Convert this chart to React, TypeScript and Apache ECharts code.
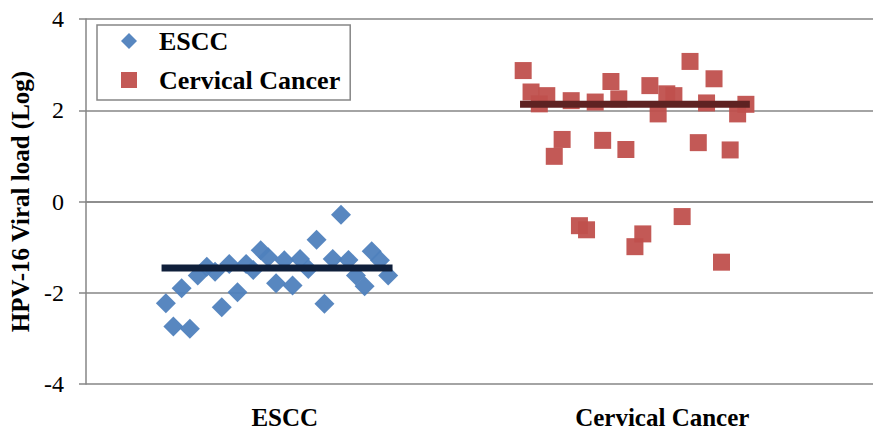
import React, { useEffect, useRef } from "react";
import * as echarts from "echarts";

const categories = ["ESCC", "Cervical Cancer"];
const yTicks = { min: -4, max: 4, interval: 2 };

// ESCC: jittered x position (in category units, 0..1) and log viral load
const esccX = [0.203, 0.222, 0.243, 0.264, 0.284, 0.307, 0.328, 0.345, 0.364, 0.385, 0.407, 0.425, 0.444, 0.463, 0.483, 0.504, 0.525, 0.544, 0.565, 0.586, 0.606, 0.627, 0.648, 0.667, 0.686, 0.708, 0.726, 0.747, 0.768];
const esccY = [-2.23, -2.74, -1.9, -2.79, -1.62, -1.43, -1.54, -2.32, -1.37, -1.99, -1.37, -1.5, -1.07, -1.22, -1.79, -1.29, -1.84, -1.26, -1.48, -0.84, -2.24, -1.26, -0.29, -1.28, -1.62, -1.86, -1.09, -1.29, -1.62];

// Cervical Cancer: jittered x position (in category units, 1..2) and log viral load
const cervX = [1.111, 1.131, 1.152, 1.171, 1.19, 1.21, 1.233, 1.254, 1.272, 1.294, 1.313, 1.334, 1.354, 1.372, 1.395, 1.415, 1.433, 1.454, 1.476, 1.494, 1.515, 1.535, 1.556, 1.577, 1.596, 1.615, 1.637, 1.656, 1.677];
const cervY = [2.87, 2.4, 2.14, 2.32, 0.99, 1.36, 2.21, -0.53, -0.62, 2.18, 1.34, 2.63, 2.25, 1.14, -0.99, -0.71, 2.54, 1.92, 2.36, 2.32, -0.33, 3.07, 1.29, 2.16, 2.69, -1.33, 1.13, 1.92, 2.13];

// Mean lines: [xStart, xEnd], mean value
const esccMeanX = [0.192, 0.779];
const esccMean = -1.46;
const cervMeanX = [1.103, 1.687];
const cervMean = 2.13;

const FONT = "Liberation Serif";
const GRID = "#868686";

export default function App() {
  const ref = useRef<HTMLDivElement>(null);
  useEffect(() => {
    if (!ref.current) return;
    const chart = echarts.init(ref.current, undefined, { renderer: "svg" });
    chart.setOption({
      animation: false,
      backgroundColor: "#ffffff",
      textStyle: { fontFamily: FONT, color: "#000" },
      grid: { left: 86, right: 0, top: 19, bottom: 48 },
      legend: {
        orient: "vertical",
        left: 97,
        top: 25,
        data: ["ESCC", "Cervical Cancer"],
        borderColor: GRID,
        borderWidth: 1.5,
        padding: [3, 10, 7, 24],
        itemWidth: 16,
        itemHeight: 16,
        itemGap: 13,
        formatter: (name: string) => `{g|}${name}`,
        textStyle: {
          fontFamily: FONT,
          fontWeight: "bold",
          fontSize: 26,
          color: "#000",
          rich: { g: { width: 17 } },
        },
      },
      xAxis: [
        {
          type: "category",
          data: categories,
          boundaryGap: true,
          axisLine: { show: true, lineStyle: { color: GRID, width: 1.5 } },
          axisTick: { show: false },
          axisLabel: {
            fontFamily: FONT,
            fontWeight: "bold",
            fontSize: 25,
            color: "#000",
            margin: 21,
            formatter: (v: string, i: number) => (i === 1 ? `{b|${v}}` : `{a|${v}}`),
            rich: {
              a: { fontFamily: FONT, fontWeight: "bold", fontSize: 25, color: "#000", padding: [0, 0, 0, 4] },
              b: { fontFamily: FONT, fontWeight: "bold", fontSize: 25, color: "#000", padding: [0, 28, 0, 0] },
            },
          },
          splitLine: { show: false },
        },
        {
          type: "value",
          min: 0,
          max: 2,
          show: false,
          splitLine: { show: false },
        },
      ],
      yAxis: {
        type: "value",
        min: yTicks.min,
        max: yTicks.max,
        interval: yTicks.interval,
        name: "HPV-16 Viral load (Log)",
        nameLocation: "middle",
        nameGap: 52,
        nameTextStyle: { fontFamily: FONT, fontWeight: "bold", fontSize: 25, color: "#000" },
        axisLine: { show: true, lineStyle: { color: GRID, width: 1.5 } },
        axisTick: { show: true, length: 7, lineStyle: { color: GRID, width: 1.5 } },
        axisLabel: {
          fontFamily: FONT,
          fontSize: 24,
          color: "#000",
          margin: 22,
          formatter: (v: number) => `{n|${v}}`,
          rich: { n: { fontFamily: FONT, fontSize: 24, fontWeight: "normal", color: "#000" } },
        },
        splitLine: { show: true, lineStyle: { color: GRID, width: 1.5 } },
      },
      series: [
        {
          name: "ESCC",
          type: "scatter",
          xAxisIndex: 1,
          symbol: "diamond",
          symbolSize: 20,
          itemStyle: { color: "#4f81bd", opacity: 0.95 },
          data: esccX.map((x, i) => [x, esccY[i]]),
        },
        {
          name: "Cervical Cancer",
          type: "scatter",
          xAxisIndex: 1,
          symbol: "rect",
          symbolSize: 17,
          itemStyle: { color: "#c0504d", opacity: 0.95 },
          data: cervX.map((x, i) => [x, cervY[i]]),
        },
        {
          name: "ESCC mean",
          type: "line",
          xAxisIndex: 1,
          symbol: "none",
          lineStyle: { color: "#0f1f3a", width: 7 },
          data: esccMeanX.map((x) => [x, esccMean]),
          z: 5,
        },
        {
          name: "Cervical mean",
          type: "line",
          xAxisIndex: 1,
          symbol: "none",
          lineStyle: { color: "#5e2222", width: 7 },
          data: cervMeanX.map((x) => [x, cervMean]),
          z: 5,
        },
      ],
    });
    return () => chart.dispose();
  }, []);
  return (
    <div
      ref={ref}
      style={{ position: "fixed", left: 0, top: 0, width: 873, height: 432 }}
    />
  );
}
